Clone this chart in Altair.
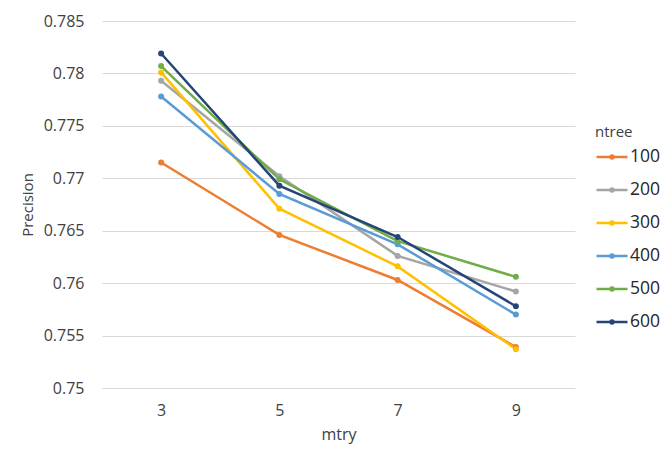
import altair as alt
import pandas as pd

mtry = ["3", "5", "7", "9"]
ntree = ["100", "200", "300", "400", "500", "600"]
p100 = [0.7715, 0.7646, 0.7603, 0.7539]
p200 = [0.7793, 0.7702, 0.7626, 0.7592]
p300 = [0.7801, 0.7671, 0.7616, 0.7537]
p400 = [0.7778, 0.7685, 0.7637, 0.7570]
p500 = [0.7807, 0.7699, 0.7640, 0.7606]
p600 = [0.7819, 0.7693, 0.7644, 0.7578]
colors = ["#ED7D31", "#A5A5A5", "#FFC000", "#5B9BD5", "#70AD47", "#264478"]

series = [p100, p200, p300, p400, p500, p600]
rows = []
for i, (nt, vals) in enumerate(zip(ntree, series)):
    for m, v in zip(mtry, vals):
        rows.append({"mtry": m, "ntree": nt, "Precision": v, "order": i})
df = pd.DataFrame(rows)

FONT = "Open Sans"
TXT = "#404040"

symbol_path = "M-1,0H1M-0.1,0A0.1,0.1,0,1,1,0.1,0A0.1,0.1,0,1,1,-0.1,0Z"

chart = alt.Chart(df).mark_line(
    strokeWidth=2.5,
    point=alt.OverlayMarkDef(filled=True, size=36),
).encode(
    x=alt.X("mtry:O", sort=mtry, scale=alt.Scale(type="point", padding=0.5),
            axis=alt.Axis(title="mtry", labelAngle=0, grid=False, domain=False, ticks=False,
                          labelFontSize=16, labelPadding=14, titleFontSize=16,
                          titlePadding=8, titleFontWeight="normal", labelColor=TXT,
                          titleColor=TXT, labelFont=FONT, titleFont=FONT)),
    y=alt.Y("Precision:Q", scale=alt.Scale(domain=[0.75, 0.785], nice=False, zero=False),
            axis=alt.Axis(title="Precision", values=[0.75, 0.755, 0.76, 0.765, 0.77, 0.775, 0.78, 0.785],
                          format=".3~f", domain=False, ticks=False, gridColor="#d9d9d9",
                          gridWidth=1.2, labelFontSize=16, labelPadding=18, titleFontSize=15,
                          titlePadding=8, titleFontWeight="normal", labelColor=TXT,
                          titleColor=TXT, labelFont=FONT, titleFont=FONT)),
    color=alt.Color("ntree:N", sort=ntree, scale=alt.Scale(domain=ntree, range=colors),
                    legend=alt.Legend(title="ntree", orient="none", legendX=493, legendY=104,
                                      symbolType=symbol_path, symbolSize=961,
                                      symbolStrokeWidth=2.5, labelFontSize=17.5,
                                      labelOffset=1, rowPadding=7, titleFontSize=15,
                                      titleFontWeight="normal", titleColor=TXT,
                                      labelColor="#262626", labelFont=FONT, titleFont=FONT,
                                      titlePadding=0)),
    order=alt.Order("order:Q"),
).properties(
    width=473, height=367,
    autosize=alt.AutoSizeParams(type="none"),
    padding={"left": 102, "top": 21, "right": 87, "bottom": 67},
    background="white",
).configure_view(stroke=None, strokeWidth=0)

chart.save("out.html", embed_options={"renderer": "svg", "actions": False})
